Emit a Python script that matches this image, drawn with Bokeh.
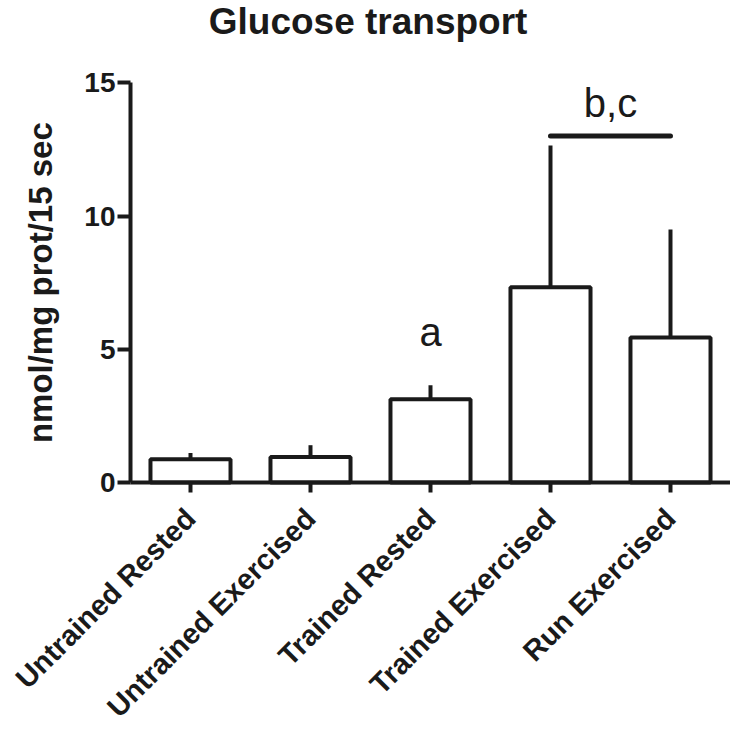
import math
from bokeh.plotting import figure
from bokeh.models import Range1d, FixedTicker, ColumnDataSource
from bokeh.embed import file_html
from bokeh.resources import INLINE
from bokeh.core.properties import value

# ---- data ----
title = "Glucose transport"
y_label = "nmol/mg prot/15 sec"
groups = ["Untrained Rested", "Untrained Exercised", "Trained Rested",
          "Trained Exercised", "Run Exercised"]
means = [0.87, 0.96, 3.12, 7.33, 5.44]
sems = [0.24, 0.44, 0.53, 5.32, 4.06]
sig_letter = "a"
sig_letter_group = 2
bracket_groups = (3, 4)
bracket_label = "b,c"
y_ticks = [0, 5, 10, 15]

FONT = "Liberation Sans"
INK = "#1a1a1a"

xs = [i + 0.5 for i in range(len(groups))]
uppers = [m + s for m, s in zip(means, sems)]

# The frame fills the whole canvas; both axes are pinned at 0 and bounded,
# so titles/labels can be placed freely without being clipped.
p = figure(width=730, height=725, output_backend="svg", toolbar_location=None,
           x_range=Range1d(-1.0833, len(groups)), y_range=Range1d(-9.12, 18.09),
           min_border_left=0, min_border_right=0, min_border_top=0,
           min_border_bottom=0)
p.outline_line_color = None
p.grid.visible = False
p.background_fill_color = "white"
p.border_fill_color = "white"

# title
p.text(x=[1.98], y=[17.30], text=[title], text_font=value(FONT),
       text_font_size="37px", text_font_style="bold", text_align="center",
       text_baseline="alphabetic", text_color=INK)

# y axis title (rotated)
p.text(x=[-0.75], y=[(y_ticks[0] + y_ticks[-1]) / 2], text=[y_label],
       angle=math.pi / 2, text_font=value(FONT), text_font_size="33px",
       text_font_style="bold", text_align="center",
       text_baseline="alphabetic", text_color=INK)

# error bars (upper only)
p.segment(x0=xs, y0=means, x1=xs, y1=uppers, line_color=INK, line_width=4)

# bars
src = ColumnDataSource(dict(x=xs, top=means))
p.vbar(x="x", top="top", width=0.667, bottom=0, source=src,
       fill_color="white", line_color=INK, line_width=4)

# significance letter over one bar
p.text(x=[xs[sig_letter_group]], y=[uppers[sig_letter_group] + 2.0],
       text=[sig_letter], text_font=value(FONT), text_font_size="40px",
       text_align="center", text_baseline="alphabetic", text_color=INK)

# bracket
g0, g1 = bracket_groups
by = max(uppers[g0], uppers[g1]) + 0.35
p.segment(x0=[xs[g0]], y0=[by], x1=[xs[g1]], y1=[by], line_color=INK,
          line_width=5, line_cap="round")
p.text(x=[(xs[g0] + xs[g1]) / 2], y=[by + 1.25], text=[bracket_label],
       text_font=value(FONT), text_font_size="40px", text_align="center",
       text_baseline="alphabetic", text_color=INK)

# y axis
ya = p.yaxis[0]
ya.fixed_location = 0
ya.bounds = (0, 15)
ya.ticker = FixedTicker(ticks=y_ticks)
ya.minor_tick_line_color = None
ya.major_tick_in = 0
ya.major_tick_out = 13
ya.major_tick_line_width = 4
ya.major_tick_line_color = INK
ya.axis_line_width = 4
ya.axis_line_color = INK
ya.major_label_text_font = FONT
ya.major_label_text_font_size = "28px"
ya.major_label_text_font_style = "bold"
ya.major_label_text_color = INK
ya.major_label_standoff = 2

# x axis
xa = p.xaxis[0]
xa.fixed_location = 0
xa.bounds = (0, len(groups))
xa.ticker = FixedTicker(ticks=xs)
xa.major_label_overrides = {x: g for x, g in zip(xs, groups)}
xa.minor_tick_line_color = None
xa.major_tick_in = 0
xa.major_tick_out = 10
xa.major_tick_line_width = 4
xa.major_tick_line_color = INK
xa.axis_line_width = 4
xa.axis_line_color = INK
xa.major_label_orientation = math.pi / 4
xa.major_label_text_font = FONT
xa.major_label_text_font_size = "29px"
xa.major_label_text_font_style = "bold"
xa.major_label_text_color = INK
xa.major_label_standoff = 21

open("out.html", "w").write(file_html(p, INLINE))
